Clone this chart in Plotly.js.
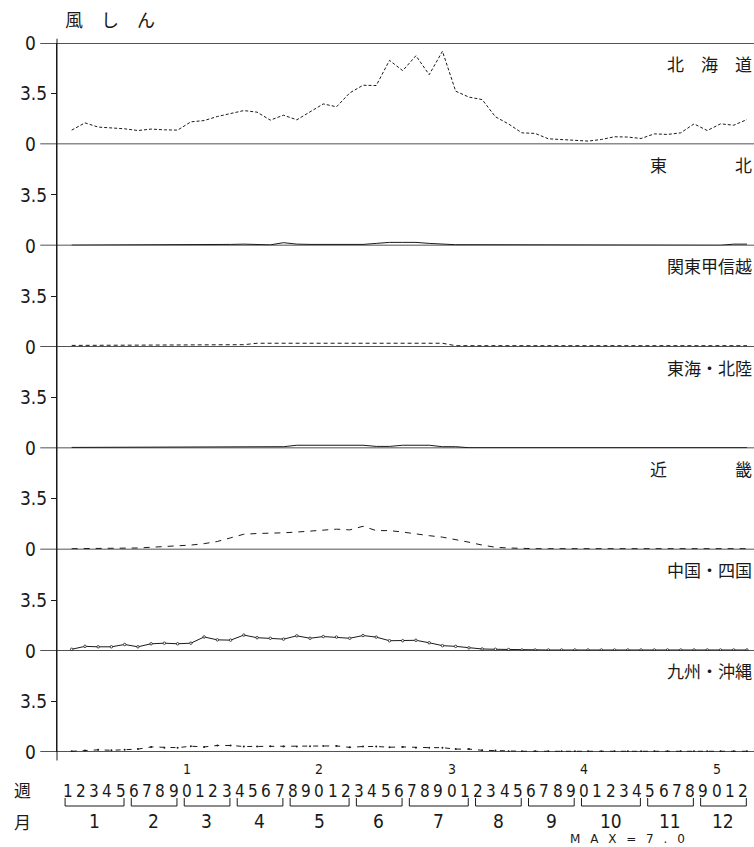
<!DOCTYPE html>
<html>
<head>
<meta charset="utf-8">
<script src="https://cdn.plot.ly/plotly-3.0.1.min.js"></script>
<style>html,body{margin:0;padding:0;background:#fff;}#chart{width:754px;height:847px;}</style>
</head>
<body>
<div id="chart"></div>
<script>
// ---- data ----
const weeks = [1,2,3,4,5,6,7,8,9,10,11,12,13,14,15,16,17,18,19,20,21,22,23,24,25,26,
               27,28,29,30,31,32,33,34,35,36,37,38,39,40,41,42,43,44,45,46,47,48,49,50,51,52];
const regionNames = ['北\u3000海\u3000道', '東\u3000\u3000\u3000\u3000北', '関東甲信越', '東海・北陸', '近\u3000\u3000\u3000\u3000畿', '中国・四国', '九州・沖縄'];
const hokkaido = [0.98,1.48,1.19,1.14,1.07,0.95,1.05,1.0,0.98,1.55,1.64,1.92,2.1,2.33,2.22,1.67,2.01,1.69,2.24,2.79,2.59,3.55,4.08,4.06,5.8,5.09,
                  6.12,4.81,6.43,3.67,3.26,3.09,1.9,1.4,0.79,0.75,0.38,0.33,0.29,0.22,0.33,0.52,0.5,0.4,0.72,0.68,0.79,1.41,0.95,1.41,1.32,1.71];
const tohoku = [0.03,0.03,0.03,0.03,0.03,0.03,0.08,0.08,0.08,0.03,0.08,0.08,0.08,0.1,0.05,0.05,0.2,0.1,0.08,0.08,0.08,0.08,0.08,0.15,0.22,0.22,
                0.22,0.15,0.1,0.06,0.06,0.06,0.06,0.02,0.02,0.02,0.02,0.02,0.02,0.02,0.02,0.02,0.02,0.02,0.02,0.02,0.02,0.02,0.02,0.02,0.1,0.1];
const kanto = [0.1,0.1,0.1,0.1,0.1,0.1,0.1,0.1,0.1,0.15,0.15,0.15,0.15,0.15,0.25,0.25,0.25,0.25,0.25,0.25,0.25,0.25,0.25,0.25,0.25,0.25,
               0.25,0.25,0.25,0.08,0.08,0.08,0.08,0.08,0.08,0.08,0.08,0.08,0.08,0.08,0.08,0.08,0.08,0.08,0.08,0.08,0.08,0.08,0.08,0.08,0.08,0.08];
const tokai = [0.05,0.05,0.05,0.05,0.05,0.05,0.05,0.05,0.05,0.05,0.1,0.1,0.1,0.1,0.1,0.1,0.1,0.2,0.2,0.2,0.2,0.2,0.2,0.12,0.12,0.2,
               0.2,0.2,0.1,0.1,0.03,0.03,0.03,0.03,0.03,0.03,0.03,0.03,0.03,0.03,0.03,0.03,0.03,0.03,0.03,0.03,0.03,0.03,0.03,0.03,0.03,0.03];
const kinki = [0.05,0.05,0.05,0.05,0.05,0.1,0.15,0.2,0.2,0.3,0.4,0.55,0.8,1.05,1.1,1.1,1.15,1.2,1.25,1.3,1.4,1.35,1.6,1.3,1.3,1.2,
               1.05,0.95,0.85,0.7,0.5,0.3,0.15,0.1,0.05,0.05,0.05,0.05,0.05,0.05,0.05,0.05,0.05,0.05,0.05,0.05,0.05,0.05,0.05,0.05,0.05,0.05];
const chugoku = [0.1,0.3,0.27,0.27,0.43,0.27,0.48,0.52,0.48,0.52,0.95,0.75,0.73,1.08,0.9,0.86,0.8,1.03,0.86,0.98,0.94,0.86,1.05,0.94,0.69,0.69,
                 0.72,0.55,0.35,0.3,0.2,0.12,0.1,0.08,0.05,0.05,0.05,0.05,0.05,0.05,0.05,0.05,0.05,0.05,0.05,0.05,0.05,0.05,0.05,0.05,0.05,0.05];
const kyushu = [0.05,0.1,0.15,0.12,0.15,0.2,0.35,0.3,0.3,0.4,0.35,0.45,0.45,0.38,0.38,0.4,0.38,0.38,0.4,0.42,0.42,0.32,0.38,0.38,0.33,0.35,
                0.3,0.3,0.3,0.2,0.2,0.12,0.1,0.05,0.05,0.05,0.05,0.05,0.05,0.05,0.05,0.05,0.05,0.05,0.05,0.05,0.05,0.05,0.05,0.05,0.05,0.05];
const weekTickText = weeks.map(w => String(w % 10));
const tensWeeks = [10,20,30,40,50];
const tensText = ['1','2','3','4','5'];
const monthText = ['1','2','3','4','5','6','7','8','9','10','11','12'];
const monthStart = [1,6,10,14,18,23,27,32,36,40,45,49];
const monthEnd   = [5,9,13,17,22,26,31,35,39,44,48,52];
const yTickVals = [3.5];
const yTickText = ['3.5'];
const maxText = 'M\u2002 A\u2002 X\u2002 =\u2002 7\u2002 .\u2002 0';

// ---- styling ----
const INK = '#1a1a1a';
const NUM = 'Liberation Sans Narrow, DejaVu Sans Condensed, sans-serif';
const JP = 'Noto Sans CJK JP, sans-serif';
const series = [hokkaido, tohoku, kanto, tokai, kinki, chugoku, kyushu];
const styles = [
  {mode:'lines', line:{color:INK, width:1, dash:'3px,2px'}},
  {mode:'lines', line:{color:INK, width:1}},
  {mode:'lines', line:{color:INK, width:1, dash:'4px,3px'}},
  {mode:'lines', line:{color:INK, width:1}},
  {mode:'lines', line:{color:INK, width:1, dash:'6px,6px'}},
  {mode:'lines+markers', line:{color:INK, width:1}, marker:{size:2.5, color:'#fff', line:{color:INK, width:0.8}}},
  {mode:'lines+markers', line:{color:INK, width:1, dash:'5px,6px'}, marker:{size:2, color:INK}}
];
const N = 7;
const yname = i => i === 0 ? 'y' : 'y' + (i + 1);
const ykey = i => i === 0 ? 'yaxis' : 'yaxis' + (i + 1);

const traces = series.map((s, i) => Object.assign({
  x: weeks, y: s, xaxis: 'x', yaxis: yname(i), name: regionNames[i], hoverinfo: 'skip'
}, styles[i]));

const layout = {
  width: 754, height: 847,
  margin: {l: 57, r: 0, t: 43, b: 95},
  paper_bgcolor: '#fff', plot_bgcolor: 'rgba(0,0,0,0)',
  showlegend: false,
  font: {family: NUM, color: INK, size: 17},
  title: {text: '風\u3000し\u3000ん', font: {family: JP, size: 18, color: INK},
          x: 65/754, xanchor: 'left', xref: 'container', y: 1 - 21/847, yanchor: 'middle', yref: 'container'},
  xaxis: {domain: [0, 1], range: [-0.11, 52.53], anchor: 'y7', showgrid: false, zeroline: false,
          showline: false, showticklabels: false, ticks: ''},
  shapes: [], annotations: []
};

for (let i = 0; i < N; i++) {
  layout[ykey(i)] = {
    domain: [1 - (i + 1) / N, 1 - i / N], range: [0, 7], anchor: 'x',
    showgrid: false, zeroline: false, showline: true, linecolor: INK, linewidth: 1,
    tickvals: yTickVals, ticktext: yTickText, ticks: 'outside', ticklen: 5, tickcolor: INK, tickwidth: 1,
    tickfont: {family: NUM, size: 19, color: INK}, fixedrange: true
  };
  layout.shapes.push({type: 'line', xref: 'paper', yref: yname(i), x0: -0.024, x1: 1, y0: 0, y1: 0,
                      line: {color: INK, width: 1.5}});
  layout.annotations.push({xref: 'paper', yref: yname(i), x: -0.027, y: 0, xanchor: 'right', yanchor: 'middle',
                           text: '0', showarrow: false, font: {family: NUM, size: 19, color: INK}});
  layout.annotations.push({xref: 'paper', yref: yname(i), x: 1, y: 5.6, xanchor: 'right', yanchor: 'middle',
                           text: regionNames[i], showarrow: false, font: {family: JP, size: 17, color: INK}});
}
layout.shapes.push({type: 'line', xref: 'paper', yref: 'y', x0: -0.024, x1: 1, y0: 7, y1: 7,
                    line: {color: INK, width: 1.5}});
layout.annotations.push({xref: 'paper', yref: 'y', x: -0.027, y: 7, xanchor: 'right', yanchor: 'middle',
                         text: '0', showarrow: false, font: {family: NUM, size: 19, color: INK}});
layout.shapes.push({type: 'line', xref: 'paper', yref: 'paper', x0: 0, x1: 0, y0: -0.012, y1: 1.006,
                    line: {color: INK, width: 1}});

// week axis (bottom)
const PY = py => (752 - py) / 709;
weeks.forEach((w, k) => {
  layout.annotations.push({xref: 'x', yref: 'paper', x: w - 0.3, y: PY(791), xanchor: 'center', yanchor: 'middle',
                           text: weekTickText[k], showarrow: false, font: {family: NUM, size: 17, color: INK}});
});
tensWeeks.forEach((w, k) => {
  layout.annotations.push({xref: 'x', yref: 'paper', x: w - 0.3, y: PY(769), xanchor: 'center', yanchor: 'middle',
                           text: tensText[k], showarrow: false, font: {family: NUM, size: 14, color: INK}});
});
monthText.forEach((m, k) => {
  const a = monthStart[k] - 0.5, b = monthEnd[k] - 0.05;
  const yt = PY(798), yb = PY(806);
  layout.shapes.push({type: 'path', xref: 'x', yref: 'paper',
                      path: `M ${a},${yt} L ${a},${yb} L ${b},${yb} L ${b},${yt}`,
                      line: {color: INK, width: 1}});
  layout.annotations.push({xref: 'x', yref: 'paper', x: (monthStart[k] + monthEnd[k]) / 2 - 0.3, y: PY(821),
                           xanchor: 'center', yanchor: 'middle', text: m, showarrow: false,
                           font: {family: NUM, size: 19, color: INK}});
});
layout.annotations.push({xref: 'paper', yref: 'paper', x: -35/697, y: PY(790), xanchor: 'center', yanchor: 'middle',
                         text: '週', showarrow: false, font: {family: JP, size: 17, color: INK}});
layout.annotations.push({xref: 'paper', yref: 'paper', x: -35/697, y: PY(821), xanchor: 'center', yanchor: 'middle',
                         text: '月', showarrow: false, font: {family: JP, size: 17, color: INK}});
layout.annotations.push({xref: 'paper', yref: 'paper', x: (627 - 57) / 697, y: PY(839), xanchor: 'center', yanchor: 'middle',
                         text: maxText, showarrow: false, font: {family: 'DejaVu Sans', size: 12, color: INK}});

Plotly.newPlot('chart', traces, layout, {displayModeBar: false, staticPlot: true});
</script>
</body>
</html>
